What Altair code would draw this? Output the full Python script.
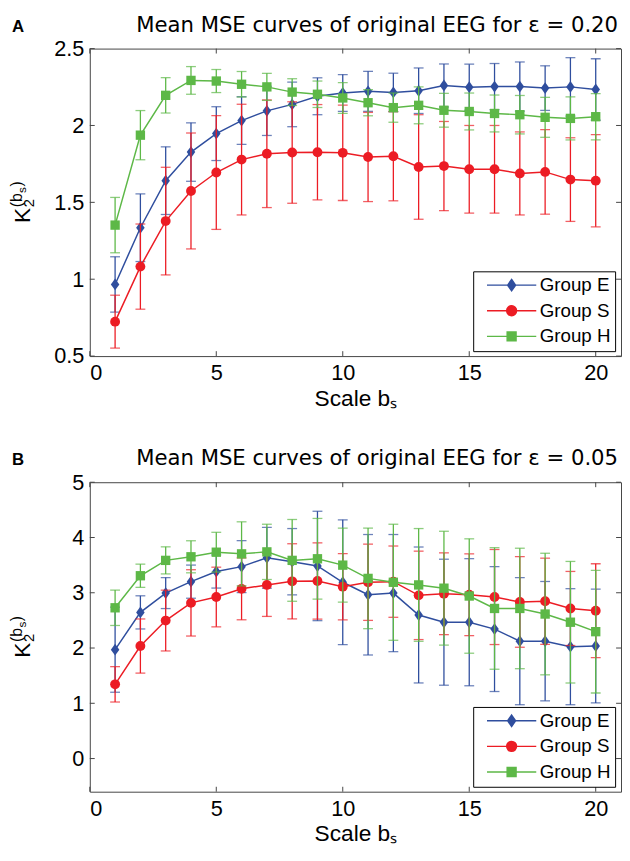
import altair as alt
import pandas as pd

# ---------------- data ----------------
scales = list(range(1, 21))
groups = ["Group E", "Group S", "Group H"]
colors = ["#2F4E9E", "#EC1C24", "#5DB847"]
x_ticks = [0, 5, 10, 15, 20]
a_y_ticks = [0.5, 1, 1.5, 2, 2.5]
b_y_ticks = [0, 1, 2, 3, 4, 5]

# Panel A (epsilon = 0.20)
a_E_mean = [0.966, 1.335, 1.641, 1.827, 1.947, 2.032, 2.095, 2.137, 2.19, 2.211,
            2.222, 2.215, 2.226, 2.26, 2.249, 2.253, 2.253, 2.243, 2.251, 2.234]
a_E_err = [0.18, 0.22, 0.22, 0.19, 0.175, 0.155, 0.16, 0.145, 0.12, 0.12,
           0.13, 0.125, 0.148, 0.14, 0.15, 0.15, 0.16, 0.145, 0.19, 0.2]
a_S_mean = [0.724, 1.082, 1.378, 1.574, 1.694, 1.778, 1.816, 1.824, 1.826, 1.822,
            1.795, 1.8, 1.73, 1.736, 1.715, 1.715, 1.688, 1.698, 1.648, 1.641]
a_S_err = [0.172, 0.277, 0.35, 0.377, 0.37, 0.36, 0.35, 0.33, 0.31, 0.31,
           0.29, 0.29, 0.34, 0.29, 0.285, 0.285, 0.27, 0.275, 0.272, 0.3]
a_H_mean = [1.352, 1.937, 2.196, 2.293, 2.289, 2.268, 2.251, 2.217, 2.203, 2.179,
            2.148, 2.116, 2.131, 2.099, 2.091, 2.078, 2.07, 2.053, 2.046, 2.057]
a_H_err = [0.18, 0.16, 0.115, 0.09, 0.075, 0.083, 0.088, 0.087, 0.086, 0.1,
           0.085, 0.095, 0.12, 0.11, 0.12, 0.12, 0.125, 0.13, 0.14, 0.15]

# Panel B (epsilon = 0.05)
b_E_mean = [1.97, 2.645, 2.994, 3.201, 3.385, 3.473, 3.633, 3.562, 3.485, 3.19,
            2.964, 2.994, 2.598, 2.467, 2.467, 2.343, 2.124, 2.124, 2.024, 2.036]
b_E_err = [0.77, 0.3, 0.28, 0.3, 0.3, 0.47, 0.55, 0.6, 0.99, 1.13,
           1.09, 1.06, 1.23, 1.14, 1.15, 1.13, 1.15, 1.08, 1.05, 1.03]
b_S_mean = [1.343, 2.036, 2.497, 2.817, 2.923, 3.071, 3.142, 3.207, 3.213, 3.11,
            3.19, 3.201, 2.953, 2.982, 2.964, 2.923, 2.834, 2.846, 2.716, 2.675]
b_S_err = [0.32, 0.49, 0.55, 0.6, 0.54, 0.56, 0.57, 0.68, 0.69, 0.6,
           0.69, 0.645, 0.8, 0.74, 0.74, 0.86, 0.82, 0.78, 0.67, 0.85]
b_H_mean = [2.728, 3.308, 3.586, 3.651, 3.734, 3.704, 3.74, 3.586, 3.615, 3.5,
            3.26, 3.19, 3.142, 3.083, 2.941, 2.716, 2.716, 2.615, 2.467, 2.296]
b_H_err = [0.32, 0.21, 0.245, 0.29, 0.36, 0.58, 0.5, 0.74, 0.73, 0.67,
           0.91, 1.05, 1.02, 1.03, 1.035, 1.1, 1.09, 1.1, 1.1, 1.11]

# ---------------- style ----------------
FONT = "Liberation Sans"
TITLE_FONT = "DejaVu Sans"
W = 539
H_A = 312
H_B = 314
AXIS_GREY = "#444444"

marker_paths = [
    "M0,-1L0.72,0L0,1L-0.72,0Z",  # diamond
    "circle",
    "square",
]
marker_sizes = [144, 100, 90]
legend_paths = [
    "M-5,0L5,0M0,-1.15L0.8,0L0,1.15L-0.8,0Z",
    "M-5,0L5,0M-1,0A1,1,0,1,0,1,0A1,1,0,1,0,-1,0Z",
    "M-5,0L5,0M-0.9,-0.9L0.9,-0.9L0.9,0.9L-0.9,0.9Z",
]


def make_df(means, errs):
    rows = []
    for g, m, e in zip(groups, means, errs):
        for s, mv, ev in zip(scales, m, e):
            rows.append({"group": g, "scale": s, "mean": mv,
                         "lo": mv - ev, "hi": mv + ev})
    return pd.DataFrame(rows)


def text_layer(txt, px, py, **style):
    return alt.Chart(pd.DataFrame({"t": [txt]})).mark_text(**style).encode(
        text="t:N", x=alt.value(px), y=alt.value(py))


def ylabel_layers(height):
    """K_2^(b_s) written as rotated pieces, left of the y axis."""
    mid = height / 2.0
    y0 = mid + 21          # start of "K" (text runs upward)
    kx = -61               # baseline of K (screen x, relative to plot left)
    pieces = [
        ("K", 23, kx, y0),
        ("2", 15, kx + 4, y0 - 16),
        ("(b", 16, kx - 8, y0 - 16),
        ("s", 12, kx - 4, y0 - 30.5),
        (")", 16, kx - 8, y0 - 37),
    ]
    return [text_layer(t, px, py, font=FONT, fontSize=fs, angle=270,
                       align="left", baseline="alphabetic", color="black")
            for t, fs, px, py in pieces]


def panel(df, ydom, yticks, yfmt, title, letter, height):
    xscale = alt.Scale(domain=[0, 21], nice=False, zero=False)
    yscale = alt.Scale(domain=ydom, nice=False, zero=False)
    xaxis = alt.Axis(values=x_ticks, title="Scale bₛ", labelPadding=7,
                     titlePadding=4, titleFontSize=23)
    yaxis = alt.Axis(values=yticks, format=yfmt, title=None, labelPadding=6)

    def X(field):
        return alt.X(field, type="quantitative", scale=xscale, axis=xaxis)

    def Y(field):
        return alt.Y(field, type="quantitative", scale=yscale, axis=yaxis)

    layers = []
    for g, c, shp, sz in zip(groups, colors, marker_paths, marker_sizes):
        base = alt.Chart(df).transform_filter(alt.datum.group == g)
        layers.append(base.mark_rule(color=c, strokeWidth=1.3).encode(
            x=X("scale"), y=Y("lo"), y2="hi"))
        layers.append(base.mark_tick(color=c, orient="horizontal", size=10,
                                     thickness=1.3).encode(x=X("scale"), y=Y("lo")))
        layers.append(base.mark_tick(color=c, orient="horizontal", size=10,
                                     thickness=1.3).encode(x=X("scale"), y=Y("hi")))
        layers.append(base.mark_line(color=c, strokeWidth=1.5).encode(
            x=X("scale"), y=Y("mean")))
        layers.append(base.mark_point(color=c, filled=True, opacity=1, shape=shp,
                                      size=sz).encode(x=X("scale"), y=Y("mean")))

    # legend layer (invisible marks, legend only)
    leg = alt.Legend(orient="none", legendX=389, legendY=height - 86, title=None,
                     labelFont=FONT, labelFontSize=19, labelColor="black",
                     symbolSize=100, symbolStrokeWidth=1.5, symbolOpacity=1,
                     symbolOffset=25, labelOffset=19, padding=4.5, rowPadding=6,
                     strokeColor="black", fillColor="white", cornerRadius=0)
    layers.append(alt.Chart(df).mark_point(filled=True, opacity=0).encode(
        x=X("scale"), y=Y("mean"),
        fill=alt.Fill("group:N", scale=alt.Scale(domain=groups, range=colors), legend=leg),
        stroke=alt.Stroke("group:N", scale=alt.Scale(domain=groups, range=colors), legend=leg),
        shape=alt.Shape("group:N", scale=alt.Scale(domain=groups, range=legend_paths), legend=leg),
    ))

    # inward ticks (box style)
    xt = pd.DataFrame({"v": x_ticks})
    yt = pd.DataFrame({"v": yticks})
    tick_style = dict(color=AXIS_GREY, strokeWidth=1)
    layers.append(alt.Chart(xt).mark_rule(**tick_style).encode(
        x=X("v"), y=alt.value(height), y2=alt.value(height - 5)))
    layers.append(alt.Chart(xt).mark_rule(**tick_style).encode(
        x=X("v"), y=alt.value(0), y2=alt.value(5)))
    layers.append(alt.Chart(yt).mark_rule(**tick_style).encode(
        y=Y("v"), x=alt.value(0), x2=alt.value(5)))
    layers.append(alt.Chart(yt).mark_rule(**tick_style).encode(
        y=Y("v"), x=alt.value(W), x2=alt.value(W - 5)))

    layers += ylabel_layers(height)

    # panel letter and title
    layers.append(text_layer(letter, -79, -17, font=FONT, fontSize=17,
                             fontWeight="bold", align="left",
                             baseline="alphabetic", color="black"))
    layers.append(text_layer(title, W - 3, -17, font=TITLE_FONT, fontSize=21.5,
                             align="right", baseline="alphabetic", color="black"))

    return alt.layer(*layers).properties(width=W, height=height)


df_a = make_df([a_E_mean, a_S_mean, a_H_mean], [a_E_err, a_S_err, a_H_err])
df_b = make_df([b_E_mean, b_S_mean, b_H_mean], [b_E_err, b_S_err, b_H_err])

pa = panel(df_a, [0.5, 2.5], a_y_ticks, "~g",
           "Mean MSE curves of original EEG for ε = 0.20", "A", H_A)
pb = panel(df_b, [-0.6, 5], b_y_ticks, "d",
           "Mean MSE curves of original EEG for ε = 0.05", "B", H_B)

chart = alt.vconcat(pa, pb, spacing=37).resolve_scale(
    fill="independent", stroke="independent", shape="independent"
).resolve_legend(
    fill="independent", stroke="independent", shape="independent"
).properties(
    padding={"left": 0, "top": 0, "right": 0, "bottom": 0}
).configure_view(stroke=AXIS_GREY, strokeWidth=1).configure_axis(
    grid=False, domain=False, ticks=False,
    labelFont=FONT, labelFontSize=22, labelColor="black",
    titleFont=FONT, titleFontSize=22, titleColor="black", titleFontWeight="normal",
)

chart.save("out.html", embed_options={"renderer": "svg", "actions": False})
